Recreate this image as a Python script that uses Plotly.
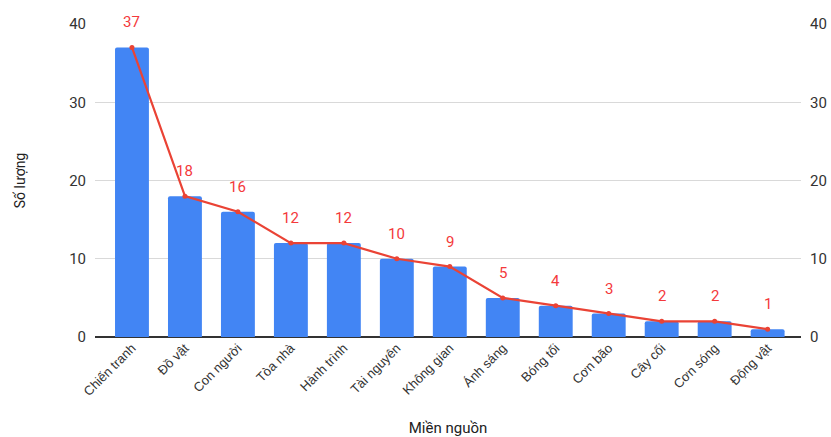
import plotly.graph_objects as go

categories = ["Chiến tranh", "Đồ vật", "Con người", "Tòa nhà", "Hành trình",
              "Tài nguyên", "Không gian", "Ánh sáng", "Bóng tối", "Cơn bão",
              "Cây cối", "Cơn sóng", "Động vật"]
counts = [37, 18, 16, 12, 12, 10, 9, 5, 4, 3, 2, 2, 1]
y_ticks = [0, 10, 20, 30, 40]

BLUE = "#4285f4"
RED = "#ea4335"
LABEL_RED = "#f4393b"
FONT = "Roboto, Arial, sans-serif"

fig = go.Figure()
fig.add_trace(go.Bar(
    x=categories, y=counts, marker=dict(color=BLUE, line=dict(width=0)),
    width=0.64, hoverinfo="skip", showlegend=False,
))
fig.add_trace(go.Scatter(
    x=categories, y=counts, mode="lines+markers",
    line=dict(color=RED, width=2.2), marker=dict(color=RED, size=5),
    showlegend=False, yaxis="y2",
))

for c, v in zip(categories, counts):
    fig.add_annotation(x=c, y=v, yref="y", text=str(v), showarrow=False,
                       yshift=25, font=dict(family=FONT, size=15, color=LABEL_RED))

fig.update_layout(
    width=831, height=437,
    margin=dict(l=95, r=30, t=24, b=100),
    paper_bgcolor="white", plot_bgcolor="white",
    font=dict(family=FONT, color="#444444"),
    barcornerradius=2,
    xaxis=dict(
        range=[-0.698, 12.63], tickangle=-45, automargin=False,
        tickfont=dict(family="Liberation Sans, Arial, sans-serif", size=13, color="#333"),
        showgrid=False, ticks="",
        title=dict(text="Miền nguồn", font=dict(size=15, color="#222"), standoff=26),
    ),
    yaxis=dict(
        range=[0, 40], tickvals=y_ticks, gridcolor="#d9d9d9", gridwidth=1,
        zeroline=True, zerolinecolor="#333333", zerolinewidth=1.5, automargin=False,
        tickfont=dict(size=15, color="#333"), ticks="", ticklabelstandoff=8,
        title=dict(text="Số lượng", font=dict(size=14, color="#222"), standoff=40),
    ),
    yaxis2=dict(
        range=[0, 40], tickvals=y_ticks, overlaying="y", side="right",
        showgrid=False, zeroline=False, automargin=False,
        tickfont=dict(size=15, color="#333"), ticks="", ticklabelstandoff=8,
    ),
)

fig.write_html("out.html")
